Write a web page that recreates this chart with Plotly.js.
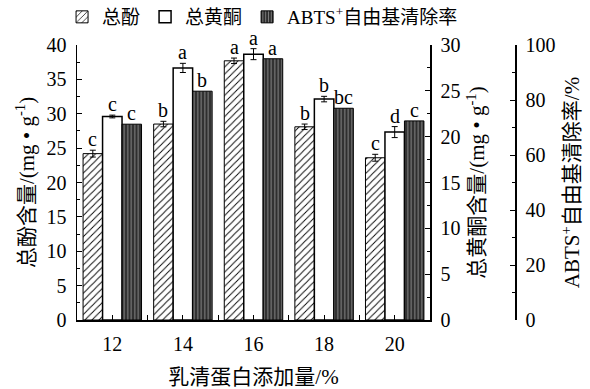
<!DOCTYPE html>
<html>
<head>
<meta charset="utf-8">
<script src="https://cdn.plot.ly/plotly-3.0.1.min.js"></script>
<style>html,body{margin:0;padding:0;background:#fff;}#chart{width:590px;height:389px;}</style>
</head>
<body>
<div id="chart"></div>
<script>
// Data
const categories = ['12', '14', '16', '18', '20'];
const phenol = [24.2, 28.5, 37.7, 28.1, 23.6];
const phenolErr = [0.5, 0.4, 0.4, 0.4, 0.5];
const phenolLetters = ['c', 'b', 'a', 'b', 'c'];
const flavonoid = [22.2, 27.5, 29.0, 24.1, 20.5];
const flavonoidErr = [0.15, 0.5, 0.6, 0.3, 0.6];
const flavonoidLetters = ['c', 'a', 'a', 'b', 'd'];
const abts = [71.2, 83.2, 95.0, 77.0, 72.4];
const abtsErr = [0, 0, 0, 0, 0];
const abtsLetters = ['c', 'b', 'a', 'bc', 'c'];

const FONT = 'Liberation Serif, Times New Roman, Noto Sans CJK SC, serif';
const pos = categories.map((c, i) => i);
const BW = 0.276;
const offsets = [-1.5 * BW, -0.5 * BW, 0.5 * BW];

const errStyle = (arr) => ({type: 'data', array: arr, visible: true, color: '#000', thickness: 1, width: 3});

const traces = [
  {
    type: 'bar', name: '总酚', x: pos, y: phenol, yaxis: 'y',
    width: BW, offset: offsets[0],
    marker: {color: '#fff', line: {color: '#000', width: 1},
      pattern: {shape: '/', bgcolor: '#fff', fgcolor: '#000', size: 5, solidity: 0.18, fillmode: 'replace'}},
    error_y: errStyle(phenolErr)
  },
  {
    type: 'bar', name: '总黄酮', x: pos, y: flavonoid, yaxis: 'y2',
    width: BW, offset: offsets[1],
    marker: {color: '#fff', line: {color: '#000', width: 1.5}},
    error_y: errStyle(flavonoidErr)
  },
  {
    type: 'bar', name: 'ABTS<sup>+</sup>自由基清除率', x: pos, y: abts, yaxis: 'y3',
    width: BW, offset: offsets[2],
    marker: {color: '#3c3c3c', line: {color: '#000', width: 1},
      pattern: {shape: '|', bgcolor: '#2e2e2e', fgcolor: '#8c8c8c', size: 3.5, solidity: 0.28, fillmode: 'replace'}}
  }
];

const annotations = [];
const addLetters = (vals, errs, letters, k, yref) => {
  vals.forEach((v, i) => {
    annotations.push({
      x: i + offsets[k] + BW / 2, y: v + errs[i], xref: 'x', yref: yref,
      text: letters[i], showarrow: false, yanchor: 'bottom', yshift: -2,
      font: {family: FONT, size: 20, color: '#000'}
    });
  });
};
addLetters(phenol, phenolErr, phenolLetters, 0, 'y');
addLetters(flavonoid, flavonoidErr, flavonoidLetters, 1, 'y2');
addLetters(abts, abtsErr, abtsLetters, 2, 'y3');

const axisCommon = {
  showgrid: false, zeroline: false, showline: true, linecolor: '#000', linewidth: 1.5,
  ticks: 'inside', ticklen: 5, tickwidth: 1, tickcolor: '#000', ticklabelstandoff: 5,
  tickfont: {family: FONT, size: 20, color: '#000'}
};
const titleFont = {family: FONT, size: 21, color: '#000'};

const layout = {
  width: 590, height: 389,
  margin: {l: 77, r: 75, t: 45, b: 69},
  paper_bgcolor: '#fff', plot_bgcolor: 'rgba(0,0,0,0)',
  font: {family: FONT, color: '#000', size: 18},
  showlegend: true,
  legend: {orientation: 'h', xref: 'container', yref: 'container', x: 0.445, xanchor: 'center', y: 1 - 17 / 389, yanchor: 'middle',
    font: {family: FONT, size: 19, color: '#000'}, itemwidth: 30, tracegroupgap: 0, bgcolor: 'rgba(0,0,0,0)'},
  xaxis: Object.assign({}, axisCommon, {
    domain: [0, 353 / 438], range: [-0.5, 4.5],
    tickmode: 'array', tickvals: pos, ticktext: categories,
    minor: {tickmode: 'linear', tick0: -0.5, dtick: 1, ticks: 'inside', ticklen: 5, tickcolor: '#000'},
    title: {text: '乳清蛋白添加量/%', font: titleFont, standoff: 16}
  }),
  yaxis: Object.assign({}, axisCommon, {
    range: [0, 40], dtick: 5, tick0: 0,
    minor: {dtick: 2.5, ticks: 'inside', ticklen: 3, tickcolor: '#000'},
    title: {text: '总酚含量/(mg • g<sup>-1</sup>)', font: titleFont, standoff: 6}
  }),
  yaxis2: Object.assign({}, axisCommon, {
    range: [0, 30], dtick: 5, tick0: 0, overlaying: 'y', side: 'right', anchor: 'x',
    minor: {dtick: 2.5, ticks: 'inside', ticklen: 3, tickcolor: '#000'},
    title: {text: '总黄酮含量/(mg • g<sup>-1</sup>)', font: titleFont, standoff: 10}
  }),
  yaxis3: Object.assign({}, axisCommon, {
    range: [0, 100], dtick: 20, tick0: 0, overlaying: 'y', side: 'right', anchor: 'free', position: 1,
    minor: {dtick: 10, ticks: 'inside', ticklen: 3, tickcolor: '#000'},
    title: {text: 'ABTS<sup>+</sup>自由基清除率/%', font: titleFont, standoff: 10}
  }),
  annotations: annotations,
  bargap: 0
};

Plotly.newPlot('chart', traces, layout, {displayModeBar: false, staticPlot: true});
</script>
</body>
</html>
